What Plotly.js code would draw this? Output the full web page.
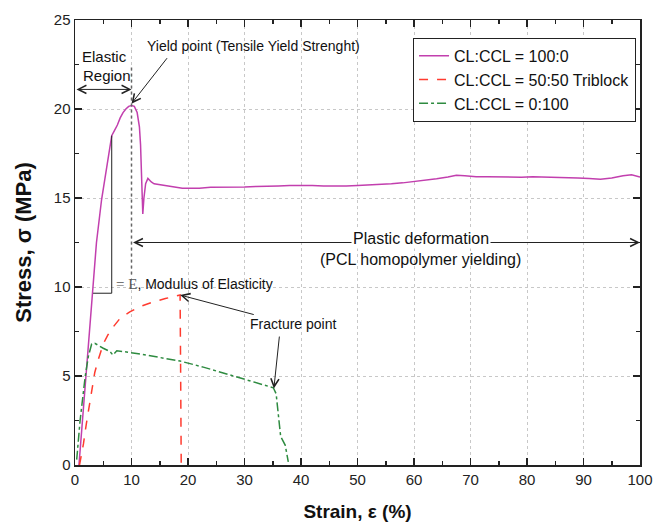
<!DOCTYPE html>
<html>
<head>
<meta charset="utf-8">
<script src="https://cdn.plot.ly/plotly-3.0.1.min.js"></script>
<style>html,body{margin:0;padding:0;background:#fff;}#chart{width:653px;height:523px;}</style>
</head>
<body>
<div id="chart"></div>
<script>
// Series names
const seriesNames = ['CL:CCL = 100:0', 'CL:CCL = 50:50 Triblock', 'CL:CCL = 0:100'];

// CL:CCL = 100:0 (strain %, stress MPa)
const strain100 = [0.7, 1.5, 2.2, 3.0, 3.8, 4.7, 5.5, 6.2, 6.5, 7.0, 7.5, 8.0, 8.5, 9.0, 9.5, 10.0, 10.5, 11.0, 11.4, 11.6, 11.8, 11.9, 12.0, 12.2, 12.5, 12.9, 13.5, 14.0, 15, 16, 17, 18, 19, 20, 22, 24, 26, 28, 30, 32, 34, 36, 38, 40, 42, 44, 46, 48, 50, 52, 54, 56, 58, 60, 62, 64, 66, 67.5, 69, 71, 73, 75, 77, 79, 81, 83, 85, 87, 89, 91, 93, 95, 97, 98.5, 100];
const stress100 = [0, 3.3, 6.3, 9.65, 12.5, 14.9, 16.6, 18.0, 18.5, 18.8, 19.1, 19.5, 19.8, 20.0, 20.15, 20.2, 20.15, 19.8, 19.0, 18.0, 16.0, 14.6, 14.1, 15.0, 15.8, 16.1, 15.9, 15.8, 15.75, 15.7, 15.65, 15.6, 15.55, 15.55, 15.55, 15.6, 15.6, 15.6, 15.62, 15.65, 15.65, 15.68, 15.7, 15.72, 15.7, 15.68, 15.67, 15.68, 15.7, 15.72, 15.75, 15.8, 15.85, 15.92, 16.0, 16.08, 16.18, 16.28, 16.25, 16.2, 16.2, 16.18, 16.15, 16.17, 16.2, 16.17, 16.15, 16.15, 16.12, 16.1, 16.05, 16.12, 16.25, 16.3, 16.18];

// CL:CCL = 50:50 Triblock
const strain5050 = [0.8, 1.5, 2.0, 2.65, 3.1, 3.5, 4.1, 5.0, 5.8, 6.8, 8.0, 9.7, 11.5, 13.9, 16.0, 17.5, 18.6, 18.7, 18.8];
const stress5050 = [0, 1.2, 2.3, 3.5, 4.4, 5.2, 5.9, 6.8, 7.3, 7.77, 8.25, 8.6, 8.9, 9.17, 9.35, 9.45, 9.55, 5.0, 0];

// CL:CCL = 0:100
const strain0100 = [0.3, 0.9, 1.8, 2.36, 2.95, 3.5, 5.0, 6.2, 6.7, 7.4, 10.9, 14.5, 18.6, 22.7, 28.6, 35.1, 35.6, 36.0, 36.4, 37.2, 37.75];
const stress0100 = [0.3, 2.5, 4.96, 6.1, 6.8, 6.84, 6.56, 6.37, 6.18, 6.42, 6.27, 6.08, 5.84, 5.5, 4.96, 4.34, 4.0, 2.9, 1.6, 1.12, 0.18];

// Axis ticks
const xTicks = [0, 10, 20, 30, 40, 50, 60, 70, 80, 90, 100];
const yTicks = [0, 5, 10, 15, 20, 25];

const traces = [
  {x: strain100, y: stress100, name: seriesNames[0], mode: 'lines',
   line: {color: '#c23fae', width: 1.5}},
  {x: strain5050, y: stress5050, name: seriesNames[1], mode: 'lines',
   line: {color: '#ff3b2f', width: 1.5, dash: 'dash'}},
  {x: strain0100, y: stress0100, name: seriesNames[2], mode: 'lines',
   line: {color: '#2e8b40', width: 1.5, dash: 'dashdot'}}
];

const arrowCommon = {xref: 'x', yref: 'y', axref: 'x', ayref: 'y', text: '', showarrow: true,
  arrowhead: 5, arrowsize: 1.6, arrowwidth: 1, arrowcolor: '#222'};
const txtFont = {family: 'Arial, Liberation Sans, sans-serif', size: 14, color: '#111'};

const annotations = [
  // Elastic region double arrow
  Object.assign({}, arrowCommon, {x: 10, y: 21.1, ax: 0, ay: 21.1, arrowside: 'end+start'}),
  {xref: 'x', yref: 'y', x: 0.9, y: 22.94, text: 'Elastic', showarrow: false, xanchor: 'left', yanchor: 'middle',
   font: Object.assign({}, txtFont, {size: 15})},
  {xref: 'x', yref: 'y', x: 1.1, y: 21.87, text: 'Region', showarrow: false, xanchor: 'left', yanchor: 'middle',
   font: Object.assign({}, txtFont, {size: 15})},
  // Yield point
  Object.assign({}, arrowCommon, {x: 10, y: 20.3, ax: 16.5, ay: 22.94}),
  {xref: 'x', yref: 'y', x: 31.6, y: 23.54, text: 'Yield point (Tensile Yield Strenght)', showarrow: false,
   xanchor: 'center', yanchor: 'middle', font: txtFont},
  // Plastic deformation
  Object.assign({}, arrowCommon, {x: 100, y: 12.5, ax: 10, ay: 12.5, arrowside: 'end+start'}),
  {xref: 'x', yref: 'y', x: 61.2, y: 12.75, text: 'Plastic deformation', showarrow: false,
   xanchor: 'center', yanchor: 'middle', bgcolor: '#ffffff', font: Object.assign({}, txtFont, {size: 16})},
  {xref: 'x', yref: 'y', x: 61.2, y: 11.55, text: '(PCL homopolymer yielding)', showarrow: false,
   xanchor: 'center', yanchor: 'middle', font: Object.assign({}, txtFont, {size: 16})},
  // Modulus
  {xref: 'x', yref: 'y', x: 6.9, y: 10.17,
   text: '<span style="font-family:Liberation Serif;color:#555;font-size:15px">= E</span>, Modulus of Elasticity',
   showarrow: false, xanchor: 'left', yanchor: 'middle', font: txtFont},
  // Fracture points
  Object.assign({}, arrowCommon, {x: 18.6, y: 9.55, ax: 31.9, ay: 8.43}),
  Object.assign({}, arrowCommon, {x: 35.2, y: 4.3, ax: 36.2, ay: 7.3}),
  {xref: 'x', yref: 'y', x: 38.6, y: 7.9, text: 'Fracture point', showarrow: false,
   xanchor: 'center', yanchor: 'middle', font: txtFont}
];

const shapes = [
  // dotted line at yield strain
  {type: 'line', xref: 'x', yref: 'y', x0: 10, x1: 10, y0: 10.7, y1: 22.4,
   line: {color: '#666', width: 1.5, dash: 'dot'}},
  // modulus triangle
  {type: 'line', xref: 'x', yref: 'y', x0: 6.5, x1: 6.5, y0: 18.5, y1: 9.65,
   line: {color: '#222', width: 1}},
  {type: 'line', xref: 'x', yref: 'y', x0: 3.2, x1: 6.5, y0: 9.65, y1: 9.65,
   line: {color: '#222', width: 1}}
];

const axisCommon = {
  showline: true, linecolor: '#222', linewidth: 1.5, mirror: 'allticks',
  ticks: 'inside', ticklen: 7, tickwidth: 1.5, tickcolor: '#222',
  showgrid: true, gridcolor: '#c8c8c8', griddash: 'dot', gridwidth: 1,
  zeroline: false,
  tickfont: {family: 'Arial, Liberation Sans, sans-serif', size: 15, color: '#222'}
};

const layout = {
  width: 653, height: 523,
  margin: {l: 75, r: 13, t: 20, b: 58},
  paper_bgcolor: '#fff', plot_bgcolor: '#fff',
  showlegend: true,
  legend: {x: 0.993, y: 0.96, xanchor: 'right', yanchor: 'top', bgcolor: '#fff',
    bordercolor: '#222', borderwidth: 1, tracegroupgap: 0,
    font: {family: 'Arial, Liberation Sans, sans-serif', size: 16, color: '#111'}},
  xaxis: Object.assign({}, axisCommon, {
    range: [0, 100], tickvals: xTicks, ticktext: xTicks.map(String),
    minor: {dtick: 5, ticks: 'inside', ticklen: 4, tickcolor: '#222', showgrid: false},
    title: {text: '<b>Strain, ε (%)</b>', standoff: 18,
      font: {family: 'Arial, Liberation Sans, sans-serif', size: 19, color: '#111'}}
  }),
  yaxis: Object.assign({}, axisCommon, {
    range: [0, 25], tickvals: yTicks, ticktext: yTicks.map(String),
    minor: {dtick: 2.5, ticks: 'inside', ticklen: 4, tickcolor: '#222', showgrid: false},
    title: {text: '<b>Stress, σ (MPa)</b>', standoff: 16,
      font: {family: 'Arial, Liberation Sans, sans-serif', size: 22, color: '#111'}}
  }),
  annotations: annotations,
  shapes: shapes
};

Plotly.newPlot('chart', traces, layout, {displayModeBar: false, staticPlot: true});
</script>
</body>
</html>
